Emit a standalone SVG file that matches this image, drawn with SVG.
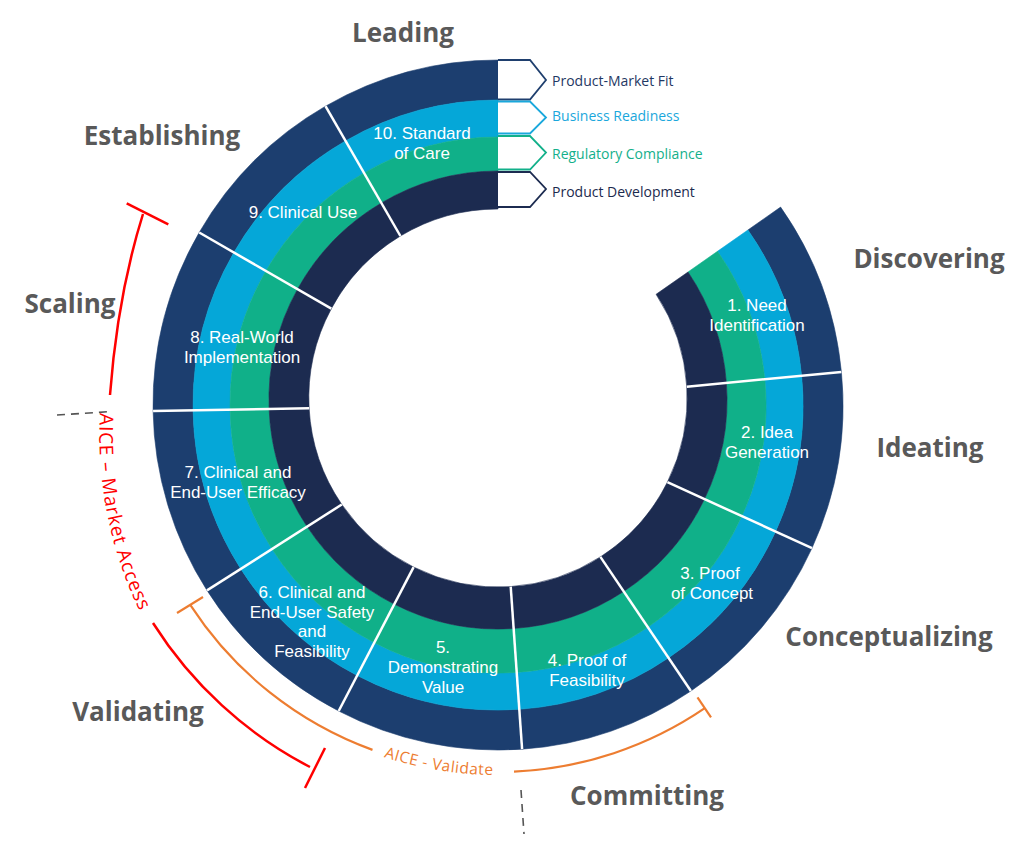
<svg xmlns="http://www.w3.org/2000/svg" width="1024" height="844" viewBox="0 0 1024 844">
<style>
.o{fill:#1c3e6f;stroke:#1c3e6f;stroke-width:.6}
.b{fill:#05a7d8;stroke:#05a7d8;stroke-width:.6}
.g{fill:#10b089;stroke:#10b089;stroke-width:.6}
.n{fill:#1c2b50;stroke:#1c2b50;stroke-width:.6}
.lbl{font-family:'Liberation Sans',Arial,sans-serif;font-size:17px;fill:#fff;text-anchor:middle}
.stage{font-family:'Open Sans','Noto Sans',sans-serif;font-weight:700;font-size:26px;fill:#595959;text-anchor:middle}
.sep{stroke:#fff;stroke-width:2.5;fill:none}
.tab{fill:#fff;stroke-width:1.8}
.tabt{font-family:'Open Sans','Noto Sans',sans-serif;font-size:14px}
.dash{stroke:#555;stroke-width:1.6;stroke-dasharray:8 6;fill:none}
.red{stroke:#ff0000;stroke-width:2.5;fill:none}
.org{stroke:#ed7d31;stroke-width:2.2;fill:none}
</style>
<defs>
<path id="redText" d="M100,413 A405,405 0 0 0 141,614"/>
<path id="orgText" d="M383.7,756.9 A370,370 0 0 0 510.9,774.8"/>
</defs>

<g id="seg1">
<path class="o" d="M780.6,207.1 A345,345 0 0 1 841.4,371.9 L801.6,375.8 A305,305 0 0 0 747.9,230 Z"/>
<path class="b" d="M747.9,230 A305,305 0 0 1 801.6,375.8 L764.8,379.3 A268,268 0 0 0 717.5,251.3 Z"/>
<path class="g" d="M717.5,251.3 A268,268 0 0 1 764.8,379.3 L726.4,383 A229,229 0 0 0 688,272 Z"/>
<path class="n" d="M688,272 A229,229 0 0 1 726.4,383 L686.8,386.8 A189,189 0 0 0 656.1,294.3 Z"/>
<text class="lbl" x="757" y="311">1. Need</text>
<text class="lbl" x="757" y="331">Identification</text>
</g>
<g id="seg2">
<path class="o" d="M841.4,371.9 A345,345 0 0 1 812,548.1 L775.6,531.5 A305,305 0 0 0 801.6,375.8 Z"/>
<path class="b" d="M801.6,375.8 A305,305 0 0 1 775.6,531.5 L741.9,516.1 A268,268 0 0 0 764.8,379.3 Z"/>
<path class="g" d="M764.8,379.3 A268,268 0 0 1 741.9,516.1 L704.5,499.1 A229,229 0 0 0 726.4,383 Z"/>
<path class="n" d="M726.4,383 A229,229 0 0 1 704.5,499.1 L667.4,482.2 A189,189 0 0 0 686.8,386.8 Z"/>
<text class="lbl" x="767" y="438">2. Idea</text>
<text class="lbl" x="767" y="458">Generation</text>
</g>
<g id="seg3">
<path class="o" d="M812,548.1 A345,345 0 0 1 690.9,691 L668.6,657.8 A305,305 0 0 0 775.6,531.5 Z"/>
<path class="b" d="M775.6,531.5 A305,305 0 0 1 668.6,657.8 L647.9,627.2 A268,268 0 0 0 741.9,516.1 Z"/>
<path class="g" d="M741.9,516.1 A268,268 0 0 1 647.9,627.2 L623.8,591.4 A229,229 0 0 0 704.5,499.1 Z"/>
<path class="n" d="M704.5,499.1 A229,229 0 0 1 623.8,591.4 L600.4,556.9 A189,189 0 0 0 667.4,482.2 Z"/>
<text class="lbl" x="710" y="579">3. Proof</text>
<text class="lbl" x="712" y="599">of Concept</text>
</g>
<g id="seg4">
<path class="o" d="M690.9,691 A345,345 0 0 1 522.1,749.2 L519.3,709.3 A305,305 0 0 0 668.6,657.8 Z"/>
<path class="b" d="M668.6,657.8 A305,305 0 0 1 519.3,709.3 L516.7,672.4 A268,268 0 0 0 647.9,627.2 Z"/>
<path class="g" d="M647.9,627.2 A268,268 0 0 1 516.7,672.4 L513.6,628.5 A229,229 0 0 0 623.8,591.4 Z"/>
<path class="n" d="M623.8,591.4 A229,229 0 0 1 513.6,628.5 L510.7,586.6 A189,189 0 0 0 600.4,556.9 Z"/>
<text class="lbl" x="587" y="666">4. Proof of</text>
<text class="lbl" x="587" y="686">Feasibility</text>
</g>
<g id="seg5">
<path class="o" d="M522.1,749.2 A345,345 0 0 1 338.7,711 L357.2,675.5 A305,305 0 0 0 519.3,709.3 Z"/>
<path class="b" d="M519.3,709.3 A305,305 0 0 1 357.2,675.5 L374.3,642.7 A268,268 0 0 0 516.7,672.4 Z"/>
<path class="g" d="M516.7,672.4 A268,268 0 0 1 374.3,642.7 L394.3,604.2 A229,229 0 0 0 513.6,628.5 Z"/>
<path class="n" d="M513.6,628.5 A229,229 0 0 1 394.3,604.2 L413.6,567.1 A189,189 0 0 0 510.7,586.6 Z"/>
<text class="lbl" x="443" y="653">5.</text>
<text class="lbl" x="443" y="673">Demonstrating</text>
<text class="lbl" x="443" y="693">Value</text>
</g>
<g id="seg6">
<path class="o" d="M338.7,711 A345,345 0 0 1 207,590.4 L240.8,568.9 A305,305 0 0 0 357.2,675.5 Z"/>
<path class="b" d="M357.2,675.5 A305,305 0 0 1 240.8,568.9 L272,549 A268,268 0 0 0 374.3,642.7 Z"/>
<path class="g" d="M374.3,642.7 A268,268 0 0 1 272,549 L307.1,526.6 A229,229 0 0 0 394.3,604.2 Z"/>
<path class="n" d="M394.3,604.2 A229,229 0 0 1 307.1,526.6 L341.8,504.5 A189,189 0 0 0 413.6,567.1 Z"/>
<text class="lbl" x="312" y="598">6. Clinical and</text>
<text class="lbl" x="312" y="617.5">End-User Safety</text>
<text class="lbl" x="312" y="637">and</text>
<text class="lbl" x="312" y="656.5">Feasibility</text>
</g>
<g id="seg7">
<path class="o" d="M207,590.4 A345,345 0 0 1 153.1,411 L193.1,410.3 A305,305 0 0 0 240.8,568.9 Z"/>
<path class="b" d="M240.8,568.9 A305,305 0 0 1 193.1,410.3 L230.1,409.7 A268,268 0 0 0 272,549 Z"/>
<path class="g" d="M272,549 A268,268 0 0 1 230.1,409.7 L269.1,409 A229,229 0 0 0 307.1,526.6 Z"/>
<path class="n" d="M307.1,526.6 A229,229 0 0 1 269.1,409 L309.1,408.3 A189,189 0 0 0 341.8,504.5 Z"/>
<text class="lbl" x="238" y="478">7. Clinical and</text>
<text class="lbl" x="238" y="498">End-User Efficacy</text>
</g>
<g id="seg8">
<path class="o" d="M153.1,411 A345,345 0 0 1 199.2,232.5 L233.9,252.5 A305,305 0 0 0 193.1,410.3 Z"/>
<path class="b" d="M193.1,410.3 A305,305 0 0 1 233.9,252.5 L265.9,271 A268,268 0 0 0 230.1,409.7 Z"/>
<path class="g" d="M230.1,409.7 A268,268 0 0 1 265.9,271 L297.5,289.2 A229,229 0 0 0 269.1,409 Z"/>
<path class="n" d="M269.1,409 A229,229 0 0 1 297.5,289.2 L331.3,308.7 A189,189 0 0 0 309.1,408.3 Z"/>
<text class="lbl" x="242" y="343">8. Real-World</text>
<text class="lbl" x="242" y="363">Implementation</text>
</g>
<g id="seg9">
<path class="o" d="M199.2,232.5 A345,345 0 0 1 325.5,106.2 L345.5,140.9 A305,305 0 0 0 233.9,252.5 Z"/>
<path class="b" d="M233.9,252.5 A305,305 0 0 1 345.5,140.9 L364,172.9 A268,268 0 0 0 265.9,271 Z"/>
<path class="g" d="M265.9,271 A268,268 0 0 1 364,172.9 L381.3,203 A229,229 0 0 0 297.5,289.2 Z"/>
<path class="n" d="M297.5,289.2 A229,229 0 0 1 381.3,203 L400.4,236 A189,189 0 0 0 331.3,308.7 Z"/>
<text class="lbl" x="303" y="218">9. Clinical Use</text>
</g>
<g id="seg10">
<path class="o" d="M325.5,106.2 A345,345 0 0 1 498,60 L498,100 A305,305 0 0 0 345.5,140.9 Z"/>
<path class="b" d="M345.5,140.9 A305,305 0 0 1 498,100 L498,137 A268,268 0 0 0 364,172.9 Z"/>
<path class="g" d="M364,172.9 A268,268 0 0 1 498,137 L498,171 A229,229 0 0 0 381.3,203 Z"/>
<path class="n" d="M381.3,203 A229,229 0 0 1 498,171 L498,209 A189,189 0 0 0 400.4,236 Z"/>
<text class="lbl" x="422" y="139">10. Standard</text>
<text class="lbl" x="422" y="159">of Care</text>
</g>

<g id="connectors">
<line class="sep" x1="686.8" y1="386.8" x2="841.4" y2="371.9"/>
<line class="sep" x1="667.4" y1="482.2" x2="812" y2="548.1"/>
<line class="sep" x1="600.4" y1="556.9" x2="690.9" y2="691"/>
<line class="sep" x1="510.7" y1="586.6" x2="522.1" y2="749.2"/>
<line class="sep" x1="413.6" y1="567.1" x2="338.7" y2="711"/>
<line class="sep" x1="341.8" y1="504.5" x2="207" y2="590.4"/>
<line class="sep" x1="309.1" y1="408.3" x2="153.1" y2="411"/>
<line class="sep" x1="331.3" y1="308.7" x2="199.2" y2="232.5"/>
<line class="sep" x1="400.4" y1="236" x2="325.5" y2="106.2"/>
<line class="dash" x1="57" y1="415" x2="112" y2="411.5"/>
<line class="dash" x1="521" y1="790" x2="524" y2="834"/>
</g>

<g id="legend">
<g id="tab-pmf">
<path class="tab" stroke="#1f3f6e" d="M498,60 H530 L546,80 L530,99.5 H498"/>
<text class="tabt" x="552" y="86" fill="#1f3864">Product-Market Fit</text>
</g>
<g id="tab-br">
<path class="tab" stroke="#1aa8dc" d="M498,101.5 H530 L546,117.5 L530,133.5 H498"/>
<text class="tabt" x="552" y="121" fill="#1aa7dc">Business Readiness</text>
</g>
<g id="tab-rc">
<path class="tab" stroke="#12b08a" d="M498,136 H530 L546,152.5 L530,169.5 H498"/>
<text class="tabt" x="552" y="159" fill="#14b08b">Regulatory Compliance</text>
</g>
<g id="tab-pd">
<path class="tab" stroke="#1c2b50" d="M498,172 H530 L546,189 L530,207 H498"/>
<text class="tabt" x="552" y="197" fill="#1c2a4e">Product Development</text>
</g>
</g>

<g id="stages">
<text class="stage" x="403" y="42">Leading</text>
<text class="stage" x="162" y="145">Establishing</text>
<text class="stage" x="70" y="313">Scaling</text>
<text class="stage" x="929" y="268">Discovering</text>
<text class="stage" x="930" y="457">Ideating</text>
<text class="stage" x="889" y="646">Conceptualizing</text>
<text class="stage" x="138" y="721">Validating</text>
<text class="stage" x="647" y="805">Committing</text>
</g>

<g id="aice-market-access">
<line class="red" x1="126.7" y1="203.3" x2="168.3" y2="224.3"/>
<path class="red" d="M143,214 Q117.5,295.5 110,395"/>
<text font-family="'Open Sans','Noto Sans',sans-serif" font-size="19" fill="#ff0000"><textPath href="#redText" textLength="204" lengthAdjust="spacing">AICE – Market Access</textPath></text>
<path class="red" d="M153,623 A408,408 0 0 0 310,767"/>
<line class="red" x1="325" y1="748" x2="305" y2="788"/>
</g>

<g id="aice-validate">
<line class="org" x1="177" y1="613" x2="203" y2="597"/>
<path class="org" d="M190.6,605.4 A367,367 0 0 0 372.5,749.9"/>
<text font-family="'Open Sans','Noto Sans',sans-serif" font-size="15.5" fill="#ed7d31"><textPath href="#orgText" textLength="111" lengthAdjust="spacing">AICE - Validate</textPath></text>
<path class="org" d="M514,771.6 A367,367 0 0 0 704.8,708.2"/>
<line class="org" x1="697.5" y1="697.4" x2="711" y2="717.3"/>
</g>
</svg>
